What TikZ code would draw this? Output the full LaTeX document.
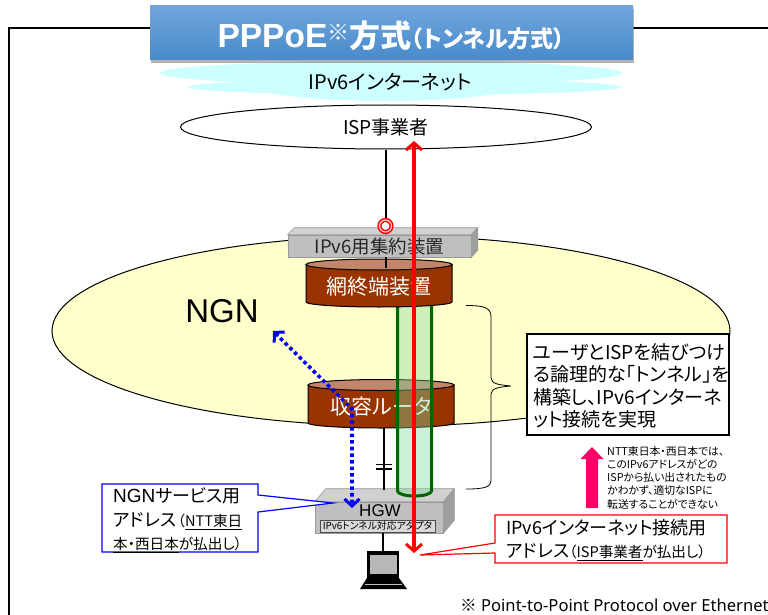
\documentclass[tikz,border=0pt]{standalone}
\usepackage{fontspec}
\setmainfont{Noto Sans CJK JP}[RawFeature={+palt}]
\newfontfamily\titlelatin{Liberation Sans}[Scale=1]
\newfontfamily\footfont{Noto Sans}
\usetikzlibrary{arrows.meta,shapes,shadows,positioning,calc}
\newcommand{\fs}[2]{\fontsize{#1}{#2}\selectfont}
\tikzstyle{wire}=[draw=black, line width=2.4pt]
\tikzstyle{area}=[ellipse, draw=black, line width=1pt, inner sep=0pt]
\tikzstyle{slabface}=[rectangle, fill=black!25, draw=black!40, line width=.6pt, inner sep=0pt]
\tikzstyle{lab}=[inner sep=0pt, align=left, anchor=west]
\tikzstyle{tunnelpipe}=[draw=green!40!black, line width=3pt]
\tikzstyle{ispflow}=[draw=red, line width=3.6pt, {Straight Barb[length=7pt,width=16pt,line width=3pt]}-{Straight Barb[length=7pt,width=16pt,line width=3pt]}]
\tikzstyle{ngnflow}=[draw=blue, line width=3.6pt, dash pattern=on 3.6pt off 3pt, {Straight Barb[length=7pt,width=15pt,line width=3pt]}-{Straight Barb[length=7pt,width=15pt,line width=3pt]}]
\definecolor{drumbody}{HTML}{993300}
\definecolor{drumtop}{HTML}{C4866A}
\definecolor{cloudcyan}{HTML}{CCFFFF}
\definecolor{ngnyellow}{HTML}{FFFFCC}
\definecolor{pipefill}{RGB}{130,218,160}
\definecolor{titletop}{RGB}{112,166,220}
\definecolor{titlebottom}{RGB}{72,138,203}
\definecolor{alertpink}{RGB}{255,0,102}
\newcommand{\drum}[6]{
	\filldraw[fill=drumbody, draw=black, line width=1pt] (#2-#5,#3) -- (#2-#5,#4) arc[start angle=180, end angle=360, x radius=#5pt, y radius=5pt] -- (#2+#5,#3) -- cycle;
	\filldraw[fill=drumtop, draw=black, line width=1pt] (#2,#3) ellipse [x radius=#5pt, y radius=5.5pt];
	\node at (#2,{(#3+#4)/2+3}) [inner sep=0pt, text=white, font=\fs{21}{21}] (#1) {#6};
}
\newcommand{\slabSides}[3]{
	\filldraw[fill=black!18, draw=black!40, line width=.6pt] (#1.north west) -- ++(#2,-#3) -- ($(#1.north east)+(#2,-#3)$) -- (#1.north east) -- cycle;
	\filldraw[fill=black!38, draw=black!40, line width=.6pt] (#1.north east) -- ++(#2,-#3) -- ($(#1.south east)+(#2,-#3)$) -- (#1.south east) -- cycle;
}

\begin{document}
\begin{tikzpicture}[x=1pt, y=-1pt]
	\useasboundingbox (0,0) rectangle (768,615);
	% frame
	\draw[line width=1.8pt] (768,28) -- (9,28) -- (9,615);
	% cloud
	\fill[cloudcyan] (391,73) ellipse [x radius=231pt, y radius=12pt];
	\fill[cloudcyan] (405,87) ellipse [x radius=217pt, y radius=8pt];
	\fill[cloudcyan] (385,84) ellipse [x radius=135pt, y radius=17pt];
	\node at (390,82) [inner sep=0pt, font=\fs{20}{20}] (internet) {IPv6インターネット};
	% title
	\node at (391.5,33) [rectangle, minimum width=483pt, minimum height=54pt, inner sep=0pt, top color=titletop, bottom color=titlebottom, drop shadow={shadow xshift=1pt, shadow yshift=-3pt, opacity=.6}] (title) {};
	\node at (391.5,35.5) [inner sep=0pt, text=white, font=\bfseries] (titletext)
		{{\titlelatin\fs{33.5}{33}PPPoE}\raisebox{7pt}{\fs{22}{22}※}\fs{31}{31}方式\fs{23}{23}（トンネル方式）};
	% areas
	\node at (386,127) [area, fill=white, minimum width=411pt, minimum height=44pt, font=\fs{19}{19}] (isp) {ISP事業者};
	\node at (391,331) [area, fill=ngnyellow, minimum width=678pt, minimum height=190pt] (ngn) {};
	\node at (222,311) [inner sep=0pt, font=\titlelatin\fs{33}{33}] (ngnlabel) {NGN};
	% tunnel bracket
	\draw[line width=.8pt] (466,305.5) .. controls (485,305.5) and (491,308) .. (491,317) -- (491,378) .. controls (491,384) and (500,385) .. (511,386) .. controls (500,387) and (491,388) .. (491,394) -- (491,480) .. controls (491,487) and (485,489) .. (466,489);
	% wires
	\coordinate (drumtopmid) at (386,268);
	\coordinate (gatefoot) at (386,257);
	\draw[wire] (isp.south -| gatefoot) -- (gatefoot);
	\node at (379.5,246) [slabface, minimum width=183pt, minimum height=22pt] (gateway) {};
	\slabSides{gateway}{6.5}{7}
	\node at (379.5,246.5) [inner sep=0pt, font=\fs{18.5}{18.5}, text=black!85] (gatewaylabel) {IPv6用集約装置};
	\node at (385.5,226) [circle, draw=red, fill=white, line width=1.5pt, double=white!80!red, double distance=1.2pt, minimum size=12pt, inner sep=0pt] (ring) {};
	% tunnel and boxes
	\node at (379,517.5) [slabface, minimum width=128pt, minimum height=31pt] (hgw) {};
	\slabSides{hgw}{11}{13}
	\node at (380,511) [inner sep=0pt, font=\titlelatin\fs{17}{17}] (hgwlabel) {HGW};
	\node at (377.5,526) [rectangle, draw=black!70, fill=white!85!black, line width=.7pt, minimum width=115pt, minimum height=12pt, inner sep=0pt, font=\fs{9.8}{9.8}] (adapter) {IPv6トンネル対応アダプタ};
	\drum{router}{381}{385}{423}{73}{収容ルータ}
	\coordinate (routerfoot) at (384,428);
	\coordinate (hgwtop) at (384,490);
	\draw[wire] (routerfoot) -- (hgwtop);
	\coordinate (tickleft) at (376,464.5);
	\coordinate (tickright) at (392,464.5);
	\draw[line width=1.2pt] (tickleft) -- (tickright);
	\draw[line width=1.2pt] ($(tickleft)+(0,4.5)$) -- ($(tickright)+(0,4.5)$);
	\filldraw[fill=pipefill, fill opacity=.4, tunnelpipe] (397.5,300) -- (397.5,491) arc[start angle=180, end angle=360, x radius=17pt, y radius=5pt] -- (431.5,300);
	\drum{edge}{379}{264.5}{302}{73}{網終端装置}
	\draw[wire] (gatefoot) -- (drumtopmid);
	% pc
	\node at (383,564.5) [rectangle, fill=black, minimum width=32pt, minimum height=27pt, inner sep=0pt] (pc) {};
	\node at (383.5,564.5) [rectangle, fill=black!28, minimum width=27pt, minimum height=19pt, inner sep=0pt] (pcscreen) {};
	\fill[black] (367,578) -- (399,578) -- (407,589) -- (360,589) -- cycle;
	\fill[white!75!black] (365,584) rectangle (402,585);
	\draw[wire] (hgw.south -| pc.north) -- (pc.north);
	% flows
	\coordinate (ngnend) at (273,331);
	\coordinate (ngnbend) at (352,409);
	\coordinate (hgwend) at (352,508);
	\draw[ngnflow] (ngnend) -- (ngnbend) -- (hgwend);
	\coordinate (ispend) at (414,141);
	\coordinate (pcend) at (414,553);
	\draw[ispflow] (ispend) -- (pcend);
	% notes
	\node at (628,384.5) [rectangle, draw=black, fill=white, line width=1.2pt, minimum width=202pt, minimum height=101pt] (tunnelnote) {};
	\node at (533,386) [lab, font=\fs{19}{22.5}] (tunneltext) {ユーザとISPを結びつけ\\る論理的な「トンネル」を\\構築し、IPv6インターネ\\ット接続を実現};
	\coordinate (arrowtip) at (592,447);
	\coordinate (arrowfoot) at (592,508);
	\fill[alertpink] (arrowtip) -- (603.5,459) -- (598,459) -- (598,508) -- (586,508) -- (586,459) -- (580.5,459) -- cycle;
	\node at (607,477.5) [lab, font=\fs{10.8}{13.2}] (warning) {NTT東日本・西日本では、\\このIPv6アドレスがどの\\ISPから払い出されたもの\\かわかず、適切なISPに\\転送することができない};
	% callouts
	\coordinate (ngnpoint) at (333,503);
	\filldraw[fill=white, draw=blue, line width=1.2pt] (102,484) -- (258,484) -- (258,495) -- (ngnpoint) -- (258,512) -- (258,552) -- (102,552) -- cycle;
	\node at (113,520.5) [lab, font=\fs{18}{23.5}] (ngnnote) {{\titlelatin\fs{19}{23.5}NGN}サービス用\\アドレス\hspace{1.5pt}{\fs{14.6}{14.6}（\underline{NTT東日}}\\{\fs{14.6}{14.6}\underline{本・西日本}が払出し）}};
	\coordinate (pcpoint) at (420,555);
	\filldraw[fill=white, draw=red, line width=1.2pt] (495,515) -- (727,515) -- (727,563) -- (495,563) -- (495,553) -- (pcpoint) -- (495,543) -- cycle;
	\node at (506,540) [lab, font=\fs{18}{22.5}] (ispnote) {IPv6インターネット接続用\\アドレス{\fs{14.6}{14.6}（\underline{ISP事業者}が払出し）}};
	\node at (460,605) [lab, font=\footfont\fs{16.6}{16.6}] (footnote) {{\rmfamily ※} Point-to-Point Protocol over Ethernet};
\end{tikzpicture}
\end{document}
